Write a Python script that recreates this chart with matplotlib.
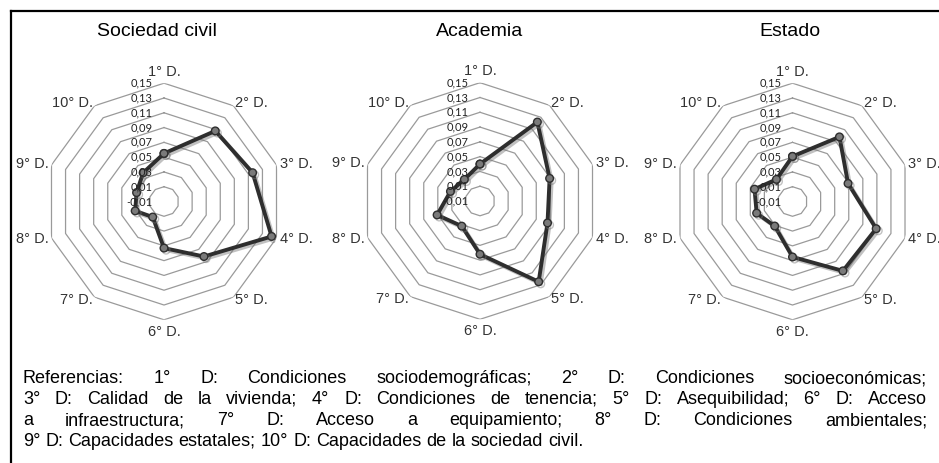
import numpy as np
import matplotlib
matplotlib.use("Agg")
import matplotlib.pyplot as plt
from matplotlib import patheffects as pe
from matplotlib import transforms as mtrans
from matplotlib.lines import Line2D

# ---------------- data ----------------
categories = ["1° D.", "2° D.", "3° D.", "4° D.", "5° D.",
              "6° D.", "7° D.", "8° D.", "9° D.", "10° D."]
titles = ["Sociedad civil", "Academia", "Estado"]
sociedad_civil = [0.055, 0.108, 0.116, 0.143, 0.082, 0.053, 0.016, 0.031, 0.029, 0.038]
academia = [0.040, 0.122, 0.089, 0.086, 0.125, 0.062, 0.032, 0.051, 0.032, 0.026]
estado = [0.051, 0.098, 0.069, 0.109, 0.106, 0.065, 0.031, 0.041, 0.044, 0.027]
series = [sociedad_civil, academia, estado]
ring_levels = [0.01, 0.03, 0.05, 0.07, 0.09, 0.11, 0.13, 0.15]
tick_values = [-0.01, 0.01, 0.03, 0.05, 0.07, 0.09, 0.11, 0.13, 0.15]
tick_labels = ["-0,01", "0,01", "0,03", "0,05", "0,07", "0,09", "0,11", "0,13", "0,15"]
r_min, r_max = -0.01, 0.15

ref_lines = [
    "Referencias: 1° D: Condiciones sociodemográficas; 2° D: Condiciones socioeconómicas;",
    "3° D: Calidad de la vivienda; 4° D: Condiciones de tenencia; 5° D: Asequibilidad; 6° D: Acceso",
    "a infraestructura; 7° D: Acceso a equipamiento; 8° D: Condiciones ambientales;",
    "9° D: Capacidades estatales; 10° D: Capacidades de la sociedad civil.",
]

# ---------------- layout ----------------
W, H = 939, 463
fig = plt.figure(figsize=(W / 100, H / 100), dpi=100)
fig.patch.set_facecolor("white")

centers = [(164, 201.5), (480, 201.0), (792.5, 201.5)]
R = 118.3
title_x = [157, 480, 790]

n = len(categories)
angles = np.arange(n) * 2 * np.pi / n

for k, (cx, cy) in enumerate(centers):
    ax = fig.add_axes([(cx - R) / W, (H - cy - R) / H, 2 * R / W, 2 * R / H],
                      projection="polar")
    ax.set_theta_zero_location("N")
    ax.set_theta_direction(-1)
    ax.set_ylim(r_min, r_max)
    ax.grid(False)
    ax.spines["polar"].set_visible(False)
    ax.set_xticks([])
    ax.set_yticks([])
    ax.patch.set_alpha(0)

    closed = np.append(angles, angles[0])
    for lv in ring_levels:
        ax.plot(closed, [lv] * (n + 1), color="#9a9a9a", lw=0.9, zorder=1)

    vals = series[k]
    ax.plot(closed, list(vals) + [vals[0]], color="#2e2e2e", lw=2.8,
            marker="o", markersize=5.5, markerfacecolor="#7a7a7a",
            markeredgecolor="#2e2e2e", markeredgewidth=1.0, zorder=5,
            solid_joinstyle="miter",
            path_effects=[pe.SimpleLineShadow(offset=(1.5, -1.5), shadow_color="#777777", alpha=0.45),
                          pe.Normal()])

    # value tick labels
    tr = mtrans.offset_copy(ax.transData, fig=fig, x=-8.0, y=0, units="points")
    for tv, tl in zip(tick_values, tick_labels):
        ax.text(0, tv, tl, transform=tr, ha="right", va="center",
                fontsize=8, family="Lato", color="#222222", zorder=6, clip_on=False)

    # category labels
    for a, lab in zip(angles, categories):
        s = np.sin(a)
        if s > 0.1:
            ha, rp = "left", 121.5
        elif s < -0.1:
            ha, rp = "right", 121.5
        else:
            ha, rp = "center", 130
        rr = r_min + (r_max - r_min) * rp / R
        ax.text(a, rr, lab, ha=ha, va="center", fontsize=10.5,
                family="Liberation Sans", color="#333333", clip_on=False)

    fig.text(title_x[k] / W, 1 - 31 / H, titles[k], ha="center", va="center",
             fontsize=14, family="Liberation Sans", color="black")

# frame (top and left edges; right/bottom cropped off)
fig.add_artist(Line2D([11 / W, 11 / W], [0, 1 - 11 / H], color="black", lw=1.6,
                      transform=fig.transFigure))
fig.add_artist(Line2D([11 / W, 1], [1 - 11 / H, 1 - 11 / H], color="black", lw=1.6,
                      transform=fig.transFigure))

# justified reference text
renderer = fig.canvas.get_renderer()
x0, x1 = 23, 927
line_y = [378, 399, 420, 441]
fs = 13
probe1 = fig.text(0, 0, "x x", fontsize=fs, family="Liberation Sans")
probe2 = fig.text(0, 0, "xx", fontsize=fs, family="Liberation Sans")
space_w = probe1.get_window_extent(renderer).width - probe2.get_window_extent(renderer).width
probe1.remove(); probe2.remove()
for i, line in enumerate(ref_lines):
    words = line.split()
    texts = [fig.text(0, 1 - (line_y[i] + 5) / H, w, fontsize=fs, family="Liberation Sans",
                      ha="left", va="baseline", color="black") for w in words]
    widths = [t.get_window_extent(renderer).width for t in texts]
    if i < len(ref_lines) - 1:
        gap = (x1 - x0 - sum(widths)) / (len(words) - 1)
    else:
        gap = space_w
    x = x0
    for t, wdt in zip(texts, widths):
        t.set_x(x / W)
        x += wdt + gap

fig.savefig("out.png", dpi=100, facecolor="white")
